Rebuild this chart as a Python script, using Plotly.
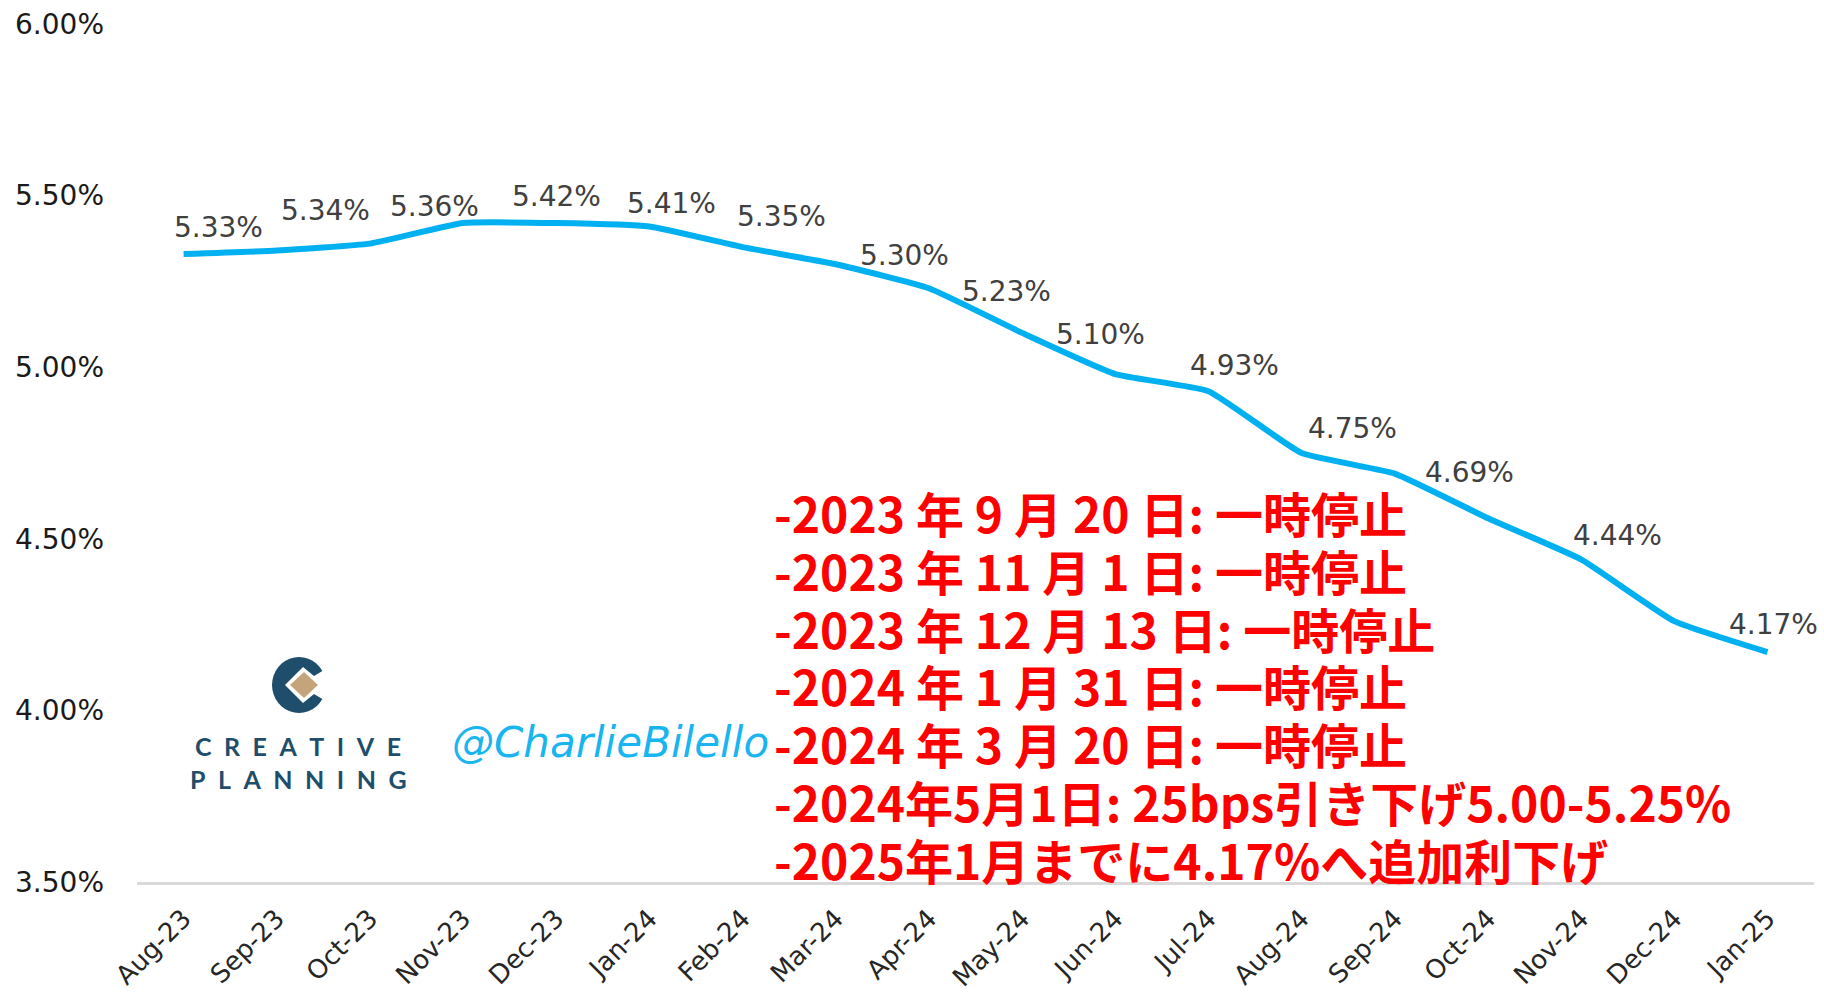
import math
import plotly.graph_objects as go

# monthly rate, Aug-23 .. Jan-25
months = ["Aug-23", "Sep-23", "Oct-23", "Nov-23", "Dec-23", "Jan-24", "Feb-24",
          "Mar-24", "Apr-24", "May-24", "Jun-24", "Jul-24", "Aug-24", "Sep-24",
          "Oct-24", "Nov-24", "Dec-24", "Jan-25"]
rate = [5.33, 5.34, 5.36, 5.42, 5.42, 5.41, 5.35, 5.30, 5.23, 5.10,
        4.98, 4.93, 4.75, 4.69, 4.56, 4.44, 4.26, 4.17]

# points that carry a value label
label_idx = [0, 1, 2, 3, 5, 6, 7, 8, 9, 11, 12, 13, 15, 17]
# where the labels sit relative to their point (pixels)
label_dx = [35, 49, 65, 93, 22, 39, 69, 78, 78, 26, 51, 75, 36, 6]
label_dy = [26, 40, 37, 27, 23, 31, 9, -3, -2, 26, 25, 1, 24, 28]

y_ticks = [3.5, 4.0, 4.5, 5.0, 5.5, 6.0]
y_ticktext = ["3.50%", "4.00%", "4.50%", "5.00%", "5.50%", "6.00%"]

notes = [
    "-2023 年 9 月 20 日: 一時停止",
    "-2023 年 11 月 1 日: 一時停止",
    "-2023 年 12 月 13 日: 一時停止",
    "-2024 年 1 月 31 日: 一時停止",
    "-2024 年 3 月 20 日: 一時停止",
    "-2024年5月1日: 25bps引き下げ5.00-5.25%",
    "-2025年1月までに4.17%へ追加利下げ",
]

W, H = 1824, 993
L, R, T, B = 137, 10, 24, 111
BLUE = "#00B0F0"
LOGO = "#1F4E6C"


def paper(px, py):
    # pixel position in the page -> paper coords
    return (px - L) / (W - L - R), 1 - (py - T) / (H - T - B)


def path(points):
    pts = [paper(x, y) for x, y in points]
    return "M " + " L ".join(f"{x:.5f},{y:.5f}" for x, y in pts) + " Z"


fig = go.Figure()
fig.add_trace(go.Scatter(
    x=months, y=rate, mode="lines",
    line=dict(color=BLUE, width=6, shape="spline", smoothing=0.4),
    hoverinfo="skip", showlegend=False,
))

# value labels
for i, dx, dy in zip(label_idx, label_dx, label_dy):
    fig.add_annotation(
        x=months[i], y=rate[i], xref="x", yref="y",
        text=f"{rate[i]:.2f}%", showarrow=False,
        xshift=dx, yshift=dy,
        font=dict(family="DejaVu Sans", size=28, color="#404040"),
    )

# red notes (tight line pitch, so the boxes are trimmed to it)
for k, line in enumerate(notes):
    px, py = paper(772, 512 + k * 57.8)
    fig.add_annotation(
        x=px, y=py, xref="paper", yref="paper", xanchor="left", yanchor="middle",
        text=line, showarrow=False, height=56, valign="middle",
        font=dict(family="Noto Sans CJK JP", size=48, color="#FF0000", weight=700),
    )

# logo: C mark with the tan diamond
cx, cy, rx, ry = 299, 685, 27, 28
outer = [(cx + rx * math.cos(math.radians(a)), cy - ry * math.sin(math.radians(a)))
         for a in range(30, 331, 10)]
inner = [(314, 694), (303, 703), (285, 685), (303, 667), (314, 676)]
fig.add_shape(type="path", xref="paper", yref="paper", path=path(outer + inner),
              fillcolor=LOGO, line=dict(width=0), layer="above")
fig.add_shape(type="path", xref="paper", yref="paper",
              path=path([(290, 685), (304, 672), (318, 685), (304, 698)]),
              fillcolor="#C4A57B", line=dict(width=0), layer="above")

for word, py in [("CREATIVE", 746), ("PLANNING", 779)]:
    x0, y0 = paper(298, py)
    fig.add_annotation(
        x=x0, y=y0, xref="paper", yref="paper", xanchor="center", yanchor="middle",
        showarrow=False, text="\u2002".join(word),
        font=dict(family="Lato", size=25, color=LOGO, weight=700),
    )

x0, y0 = paper(610, 742)
fig.add_annotation(
    x=x0, y=y0, xref="paper", yref="paper", xanchor="center", yanchor="middle",
    showarrow=False, text="@CharlieBilello",
    font=dict(family="DejaVu Sans", size=42, color="#19B5F0", style="italic"),
)

fig.update_layout(
    width=W, height=H,
    margin=dict(l=L, r=R, t=T, b=B),
    paper_bgcolor="white", plot_bgcolor="white",
    showlegend=False,
)
fig.update_xaxes(
    type="category", range=[-0.5, len(months) - 0.5], automargin=False,
    showgrid=False, zeroline=False,
    showline=True, linecolor="#D9D9D9", linewidth=3,
    ticks="", tickangle=-45, ticklabelstandoff=8,
    tickfont=dict(family="DejaVu Sans", size=26, color="#262626"),
)
fig.update_yaxes(
    range=[3.5, 6.0], tickvals=y_ticks, ticktext=y_ticktext, automargin=False,
    showgrid=False, zeroline=False, showline=False, ticks="",
    ticklabelstandoff=32,
    tickfont=dict(family="DejaVu Sans", size=28, color="#1a1a1a"),
)

# drop the default body margin so the figure fills the window exactly
fig.write_html("out.html", config={"displayModeBar": False},
               post_script="document.body.style.margin='0';")
